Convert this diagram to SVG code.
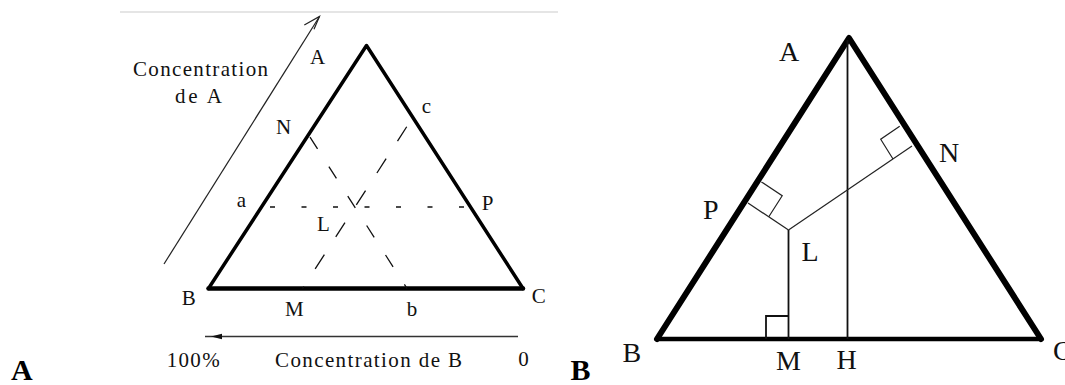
<svg xmlns="http://www.w3.org/2000/svg" width="1065" height="385" viewBox="0 0 1065 385">
<style>
  text { font-family: "Liberation Serif", "Times New Roman", serif; fill: #111; }
  .lblA { font-size: 21px; }
  .lblB { font-size: 28px; }
  .panel { font-size: 30px; font-weight: bold; fill: #000; }
  .thick { fill: none; stroke: #000; stroke-linejoin: round; stroke-linecap: round; }
  .dash { fill: none; stroke: #111; stroke-width: 1.3; }
  .thin { fill: none; stroke: #111; stroke-width: 1.8; }
  .fine { fill: none; stroke: #222; stroke-width: 1.2; }
</style>

<g id="panel-A">
  <line x1="120" y1="12" x2="558" y2="12" stroke="#dcdcdc" stroke-width="1.5"/>
  <g id="triangle-A">
    <polyline class="thick" points="208.5,288.5 366.5,45.5 523,288.5" stroke-width="3.5"/>
    <line class="thick" x1="208.5" y1="288.5" x2="523" y2="288.5" stroke-width="4.5"/>
  </g>
  <g id="connectors-A">
    <line class="dash" x1="308" y1="134" x2="407" y2="288.5" stroke-dasharray="14 21" stroke-dashoffset="31.3"/>
    <line class="dash" x1="302.5" y1="288.5" x2="413" y2="117" stroke-dasharray="17 21" stroke-dashoffset="14.6"/>
    <line class="dash" x1="260.4" y1="207" x2="470.9" y2="207" stroke-dasharray="5 26.5" stroke-dashoffset="21.9"/>
    <g id="arrow-conc-A">
      <line class="fine" x1="164" y1="264" x2="319.5" y2="16.5" stroke="#333"/>
      <polyline class="fine" points="304.3,25 319.5,16.5 314,29.3" stroke="#333"/>
    </g>
    <g id="arrow-conc-B">
      <line x1="205" y1="336.5" x2="518" y2="336.5" stroke="#333" stroke-width="1.5"/>
      <polygon points="211,336.5 222,333.8 222,339.2" fill="#111"/>
    </g>
  </g>
  <g id="labels-A">
    <text class="lblA" x="310" y="64">A</text>
    <text class="lblA" x="276" y="134">N</text>
    <text class="lblA" x="421.7" y="113">c</text>
    <text class="lblA" x="236.7" y="207">a</text>
    <text class="lblA" x="481.7" y="210">P</text>
    <text class="lblA" x="317" y="230.5">L</text>
    <text class="lblA" x="181.7" y="305">B</text>
    <text class="lblA" x="285" y="315.5">M</text>
    <text class="lblA" x="406.7" y="315.5">b</text>
    <text class="lblA" x="531.7" y="303">C</text>
    <text class="lblA" x="133" y="76" textLength="135" lengthAdjust="spacing">Concentration</text>
    <text class="lblA" x="175" y="103" textLength="47" lengthAdjust="spacing">de A</text>
    <text class="lblA" x="166.7" y="367" textLength="53" lengthAdjust="spacing">100%</text>
    <text class="lblA" x="275" y="367" textLength="187" lengthAdjust="spacing">Concentration de B</text>
    <text class="lblA" x="518.3" y="366">0</text>
  </g>
  <text class="panel" x="11" y="380">A</text>
</g>

<g id="panel-B">
  <g id="triangle-B">
    <polyline class="thick" points="657,339 849,38 1041,339" stroke-width="6"/>
    <line class="thick" x1="657" y1="339" x2="1041" y2="339" stroke-width="4.3"/>
  </g>
  <g id="connectors-B">
    <line class="thin" x1="847.5" y1="40" x2="847.5" y2="339"/>
    <line class="thin" x1="788.5" y1="230" x2="788.5" y2="339"/>
    <line class="fine" x1="788.5" y1="230" x2="748" y2="203"/>
    <line class="fine" x1="788.5" y1="230" x2="912" y2="146"/>
    <polyline class="fine" points="761.4,181.9 782.2,195.7 768.8,216.8"/>
    <polyline class="fine" points="899.7,126.2 880.7,139.2 893,159"/>
    <polyline class="thin" stroke-width="1.5" points="766,339 766,316 788.5,316"/>
  </g>
  <g id="labels-B">
    <text class="lblB" x="779" y="61">A</text>
    <text class="lblB" x="939" y="162">N</text>
    <text class="lblB" x="703" y="219">P</text>
    <text class="lblB" x="801.5" y="261">L</text>
    <text class="lblB" x="622.5" y="362">B</text>
    <text class="lblB" x="776" y="370">M</text>
    <text class="lblB" x="836.5" y="369">H</text>
    <text class="lblB" x="1053" y="360">C</text>
  </g>
  <text class="panel" x="570.5" y="380">B</text>
</g>
</svg>
